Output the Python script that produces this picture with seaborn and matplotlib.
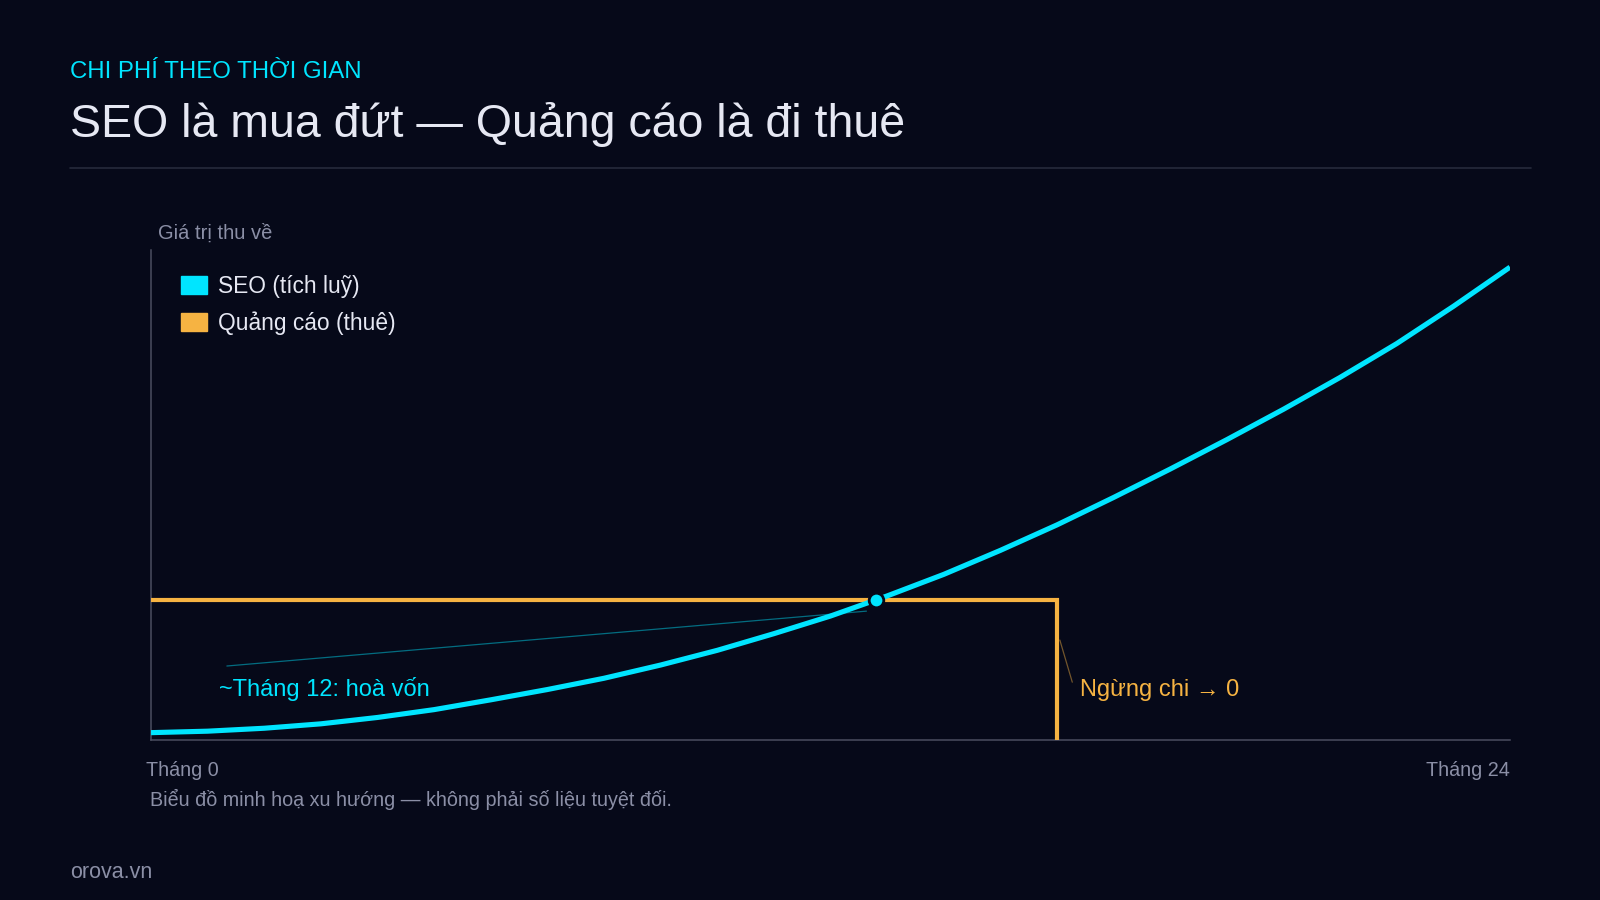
import numpy as np
import pandas as pd
import matplotlib
matplotlib.use("Agg")
import matplotlib.pyplot as plt
import seaborn as sns
from matplotlib.lines import Line2D
from matplotlib.patches import Patch

# ---- data (illustrative trend) ----
months = list(range(25))
seo_value = [1.5, 1.8, 2.4, 3.3, 4.6, 6.2, 8.2, 10.3, 12.6, 15.3, 18.3, 21.7, 25.3,
             29.4, 33.8, 38.7, 43.9, 49.5, 55.3, 61.3, 67.5, 74.0, 80.9, 88.5, 96.5]
ads_months = [0, 16, 16]
ads_value = [28.6, 28.6, 0]
ads_level = 28.6
ads_stop = 16
series_labels = ["SEO (tích luỹ)", "Quảng cáo (thuê)"]
x_labels = ["Tháng 0", "Tháng 24"]

BG = "#060919"
CYAN = "#00e5ff"
ORANGE = "#f6b342"
WHITE = "#e6e8f3"
GRAY = "#8b8fa6"
RULE = "#262a3b"
SPINE = "#4a4e60"

sns.set_theme(style="dark", rc={"axes.facecolor": BG, "figure.facecolor": BG})
plt.rcParams["font.family"] = ["Liberation Sans", "Inter", "DejaVu Sans"]

W, H = 1600, 900
fig = plt.figure(figsize=(16, 9), dpi=100)


def fx(px):
    return px / W


def fy(py):
    return 1 - py / H


ax = fig.add_axes([fx(151), fy(740), fx(1510 - 151), (740 - 250) / H])
ax.set_xlim(0, 24)
ax.set_ylim(0, 100)

seo_df = pd.DataFrame({"month": months, "value": seo_value})
ads_df = pd.DataFrame({"month": ads_months, "value": ads_value})

sns.lineplot(data=ads_df, x="month", y="value", sort=False, estimator=None,
             color=ORANGE, lw=3.0, ax=ax, solid_joinstyle="miter",
             solid_capstyle="butt", zorder=3)
sns.lineplot(data=seo_df, x="month", y="value", color=CYAN, lw=3.7, ax=ax,
             solid_capstyle="butt", solid_joinstyle="round", zorder=4)

# break-even point
be_x = np.interp(ads_level, seo_value, months)
ax.plot([be_x], [ads_level], "o", ms=10.5, color=CYAN, mec=BG, mew=2, zorder=5)

# annotations
ax.plot([1.34, be_x - 0.17], [15.1, ads_level - 2.3], color=CYAN, lw=0.9,
        alpha=0.45, zorder=2)
ax.text(1.2, 8.9, "~Tháng 12: hoà vốn", color=CYAN, fontsize=17, va="baseline")
ax.plot([ads_stop + 0.05, ads_stop + 0.27], [20.4, 11.8], color=ORANGE, lw=0.9,
        alpha=0.45, zorder=2)
ax.text(ads_stop + 0.4, 8.9, "Ngừng chi → 0", color=ORANGE, fontsize=17,
        va="baseline", family=["Liberation Sans", "Inter", "DejaVu Sans"])

ax.set_xticks([])
ax.set_yticks([])
ax.set_xlabel("")
ax.set_ylabel("")
ax.grid(False)
for s in ["top", "right"]:
    ax.spines[s].set_visible(False)
for s in ["left", "bottom"]:
    ax.spines[s].set_visible(True)
    ax.spines[s].set_color(SPINE)
    ax.spines[s].set_linewidth(1.1)

handles = [Patch(color=CYAN, label=series_labels[0]),
           Patch(color=ORANGE, label=series_labels[1])]
leg = ax.legend(handles=handles, loc="upper left",
                bbox_to_anchor=(fx(181), fy(275)), bbox_transform=fig.transFigure,
                frameon=False, fontsize=16.4, handlelength=1.14, handleheight=0.83,
                handletextpad=0.48, labelspacing=0.59, borderpad=0, borderaxespad=0)
for t in leg.get_texts():
    t.set_color(WHITE)

# header and footer texts
fig.text(fx(70), fy(78), "CHI PHÍ THEO THỜI GIAN", color=CYAN, fontsize=17.3,
         va="baseline")
fig.text(fx(70), fy(137), "SEO là mua đứt — Quảng cáo là đi thuê", color=WHITE,
         fontsize=33.5, va="baseline")
fig.add_artist(Line2D([fx(70), fx(1531)], [fy(168), fy(168)], color=RULE, lw=1.2))
fig.text(fx(158), fy(239), "Giá trị thu về", color=GRAY, fontsize=14.5, va="baseline")
fig.text(fx(146), fy(776), x_labels[0], color=GRAY, fontsize=14.2, va="baseline")
fig.text(fx(1510), fy(776), x_labels[1], color=GRAY, fontsize=14.2, va="baseline",
         ha="right")
fig.text(fx(150), fy(806), "Biểu đồ minh hoạ xu hướng — không phải số liệu tuyệt đối.",
         color=GRAY, fontsize=14.2, va="baseline")
fig.text(fx(70), fy(878), "orova.vn", color=GRAY, fontsize=15.5, va="baseline")

fig.savefig("out.png", dpi=100, facecolor=BG)
